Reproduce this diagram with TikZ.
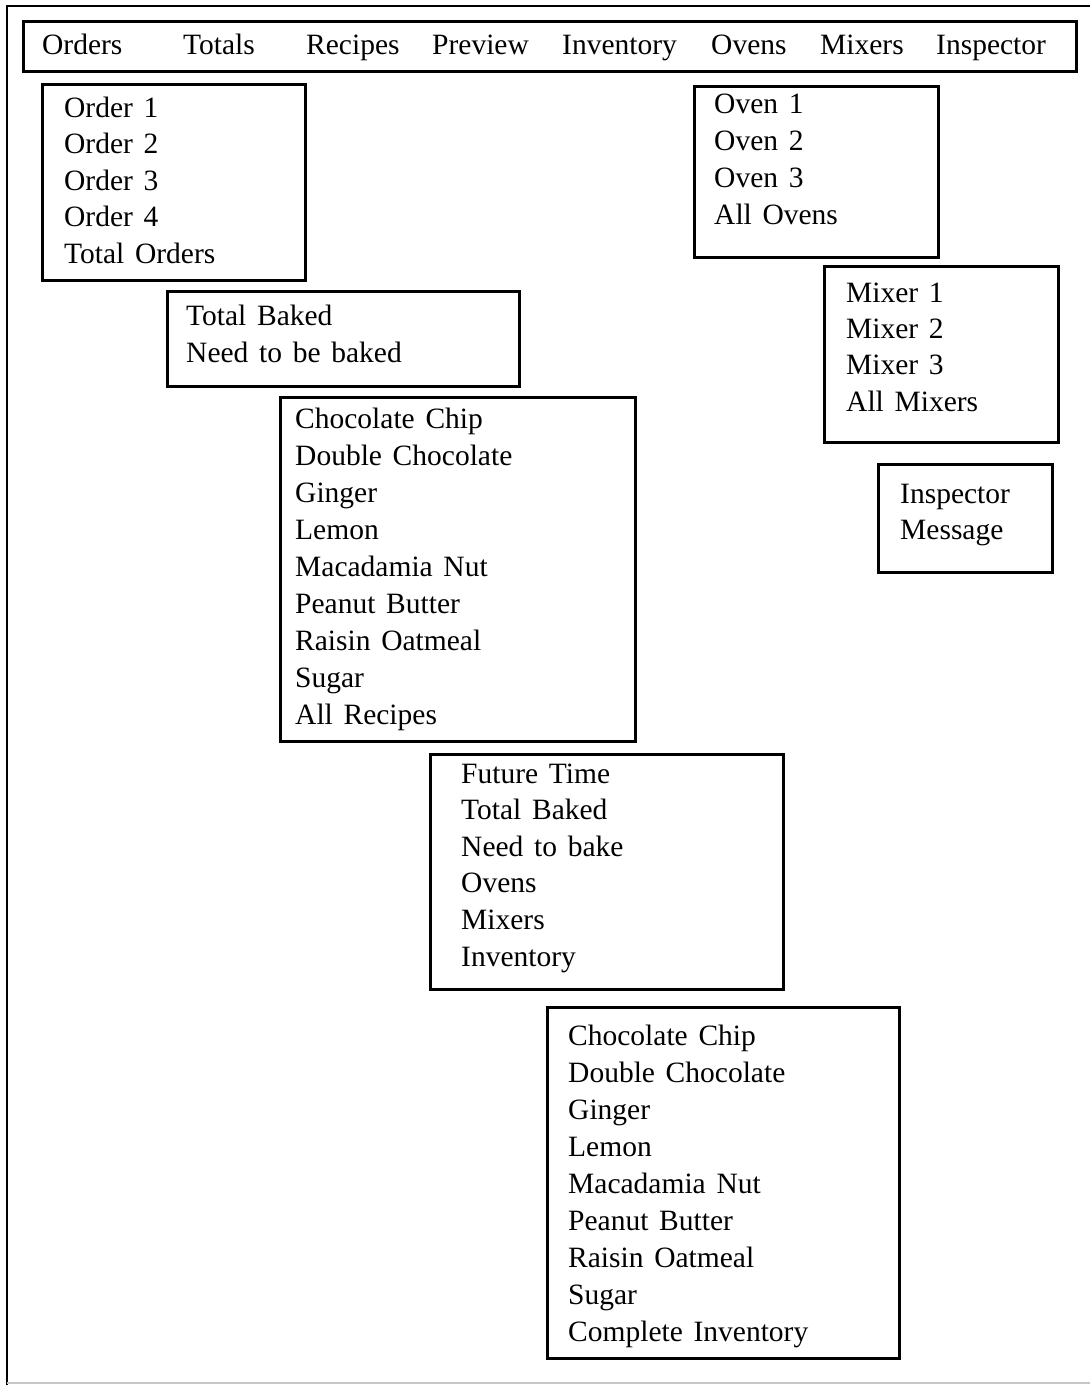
\documentclass[tikz,border=0pt]{standalone}
\usepackage{fontspec}
\setmainfont[WordSpace=1.45]{Liberation Serif}
\begin{document}
\begin{tikzpicture}[x=1pt,y=-1pt,
  panel/.style={draw, line width=3pt, inner sep=0pt, anchor=north west},
  menuitem/.style={anchor=base west, inner sep=0pt, font=\fontsize{29.5}{36}\selectfont},
  itemlist/.style={anchor=base west, inner sep=0pt, font=\fontsize{29.5}{#1}\selectfont}]
\useasboundingbox (0,0) rectangle (1090,1385);

% window frame
\coordinate (frameTL) at (7,6);
\coordinate (frameTR) at (1090,6);
\coordinate (frameBL) at (7,1385);
\coordinate (frameBR) at (1090,1383);
\draw[line width=2.6pt] (frameTR) -- (frameTL) -- (frameBL);
\draw[gray!45, line width=1.2pt] (7,1383) -- (frameBR);

% menu bar
\node[panel, minimum width=1053pt, minimum height=50pt] (menubar) at (22,20) {};
\node[menuitem] (mOrders) at (42,54) {Orders};
\node[menuitem] (mTotals) at (183,54) {Totals};
\node[menuitem] (mRecipes) at (306,54) {Recipes};
\node[menuitem] (mPreview) at (432,54) {Preview};
\node[menuitem] (mInventory) at (562,54) {Inventory};
\node[menuitem] (mOvens) at (711,54) {Ovens};
\node[menuitem] (mMixers) at (820,54) {Mixers};
\node[menuitem] (mInspector) at (936,54) {Inspector};

% Orders menu
\node[panel, minimum width=263pt, minimum height=196pt] (ordersBox) at (41,83) {};
\node[itemlist=36.5] (ordersList) at (64,117) {\begin{tabular}[t]{@{}l@{}}
Order 1\\ Order 2\\ Order 3\\ Order 4\\ Total Orders\end{tabular}};

% Totals menu
\node[panel, minimum width=352pt, minimum height=95pt] (totalsBox) at (166,290) {};
\node[itemlist=37] (totalsList) at (186,325) {\begin{tabular}[t]{@{}l@{}}
Total Baked\\ Need to be baked\end{tabular}};

% Recipes menu
\node[panel, minimum width=355pt, minimum height=344pt] (recipesBox) at (279,396) {};
\node[itemlist=37] (recipesList) at (295,428) {\begin{tabular}[t]{@{}l@{}}
Chocolate Chip\\ Double Chocolate\\ Ginger\\ Lemon\\ Macadamia Nut\\
Peanut Butter\\ Raisin Oatmeal\\ Sugar\\ All Recipes\end{tabular}};

% Preview menu
\node[panel, minimum width=353pt, minimum height=235pt] (previewBox) at (429,753) {};
\node[itemlist=36.6] (previewList) at (461,783) {\begin{tabular}[t]{@{}l@{}}
Future Time\\ Total Baked\\ Need to bake\\ Ovens\\ Mixers\\ Inventory\end{tabular}};

% Inventory menu
\node[panel, minimum width=352pt, minimum height=351pt] (inventoryBox) at (546,1006) {};
\node[itemlist=37.1] (inventoryList) at (568,1045) {\begin{tabular}[t]{@{}l@{}}
Chocolate Chip\\ Double Chocolate\\ Ginger\\ Lemon\\ Macadamia Nut\\
Peanut Butter\\ Raisin Oatmeal\\ Sugar\\ Complete Inventory\end{tabular}};

% Ovens menu
\node[panel, minimum width=244pt, minimum height=171pt] (ovensBox) at (693,85) {};
\node[itemlist=37.3] (ovensList) at (714,113) {\begin{tabular}[t]{@{}l@{}}
Oven 1\\ Oven 2\\ Oven 3\\ All Ovens\end{tabular}};

% Mixers menu
\node[panel, minimum width=234pt, minimum height=176pt] (mixersBox) at (823,265) {};
\node[itemlist=36.4] (mixersList) at (846,302) {\begin{tabular}[t]{@{}l@{}}
Mixer 1\\ Mixer 2\\ Mixer 3\\ All Mixers\end{tabular}};

% Inspector menu
\node[panel, minimum width=174pt, minimum height=108pt] (inspectorBox) at (877,463) {};
\node[itemlist=36] (inspectorList) at (900,503) {\begin{tabular}[t]{@{}l@{}}
Inspector\\ Message\end{tabular}};
\end{tikzpicture}
\end{document}
